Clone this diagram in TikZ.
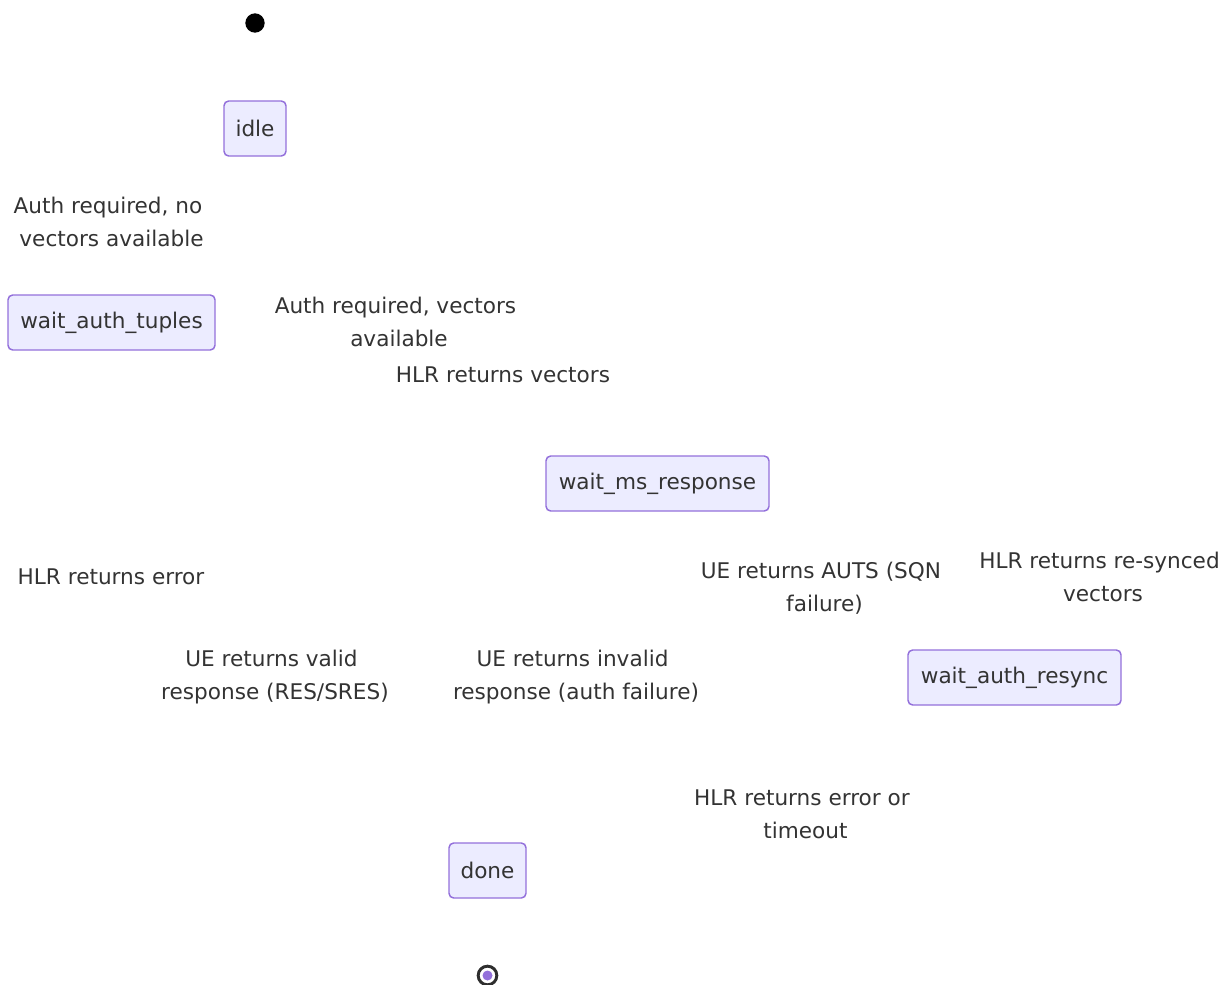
\documentclass[tikz,border=0pt]{standalone}
\usepackage{fontspec}
\setmainfont{DejaVu Sans}
\definecolor{nodefill}{HTML}{ECECFF}
\definecolor{nodeline}{HTML}{9370DB}
\definecolor{txt}{HTML}{333333}
\newcommand{\tsp}{\hspace*{5.25pt}}
\begin{document}
\begin{tikzpicture}[x=0.75pt,y=-0.75pt,
  state/.style={draw=nodeline,fill=nodefill,line width=1.1pt,rounded corners=3.5pt,
    minimum height=41.25pt,inner xsep=0pt,text=txt,font=\fontsize{16.2}{24.75}\selectfont},
  lbl/.style={align=center,text=txt,inner sep=0pt,font=\fontsize{16.2}{24.75}\selectfont}]
\useasboundingbox (0,0) rectangle (1232,985);
\node[circle,fill=black,minimum size=14.5pt,inner sep=0pt] (start) at (255,23) {};
\node[state,minimum width=46.5pt] (idle) at (255,128.5) {idle};
\node[state,minimum width=155.25pt] (tuples) at (111.5,322.5) {wait\_auth\_tuples};
\node[state,minimum width=167.25pt] (ms) at (657.5,483.5) {wait\_ms\_response};
\node[state,minimum width=159.75pt] (resync) at (1014.5,677.5) {wait\_auth\_resync};
\node[state,minimum width=57.75pt] (done) at (487.5,870.5) {done};
\node[circle,draw=txt!90!black,line width=2.2pt,fill=white,minimum size=14pt,inner sep=0pt] (end) at (487.5,975.5) {};
\node[circle,fill=nodeline,minimum size=7.5pt,inner sep=0pt] (endin) at (end) {};
\node[lbl] (l1) at (111.5,221.5) {Auth required, no\tsp\\vectors available};
\node[lbl] (l2) at (399,321.5) {Auth required, vectors\tsp\\available};
\node[lbl] (l3) at (503,375) {HLR returns vectors};
\node[lbl] (l4) at (111,577) {HLR returns error};
\node[lbl] (l5) at (824.5,588) {UE returns AUTS (SQN\tsp\\failure)};
\node[lbl] (l6) at (1103,577) {HLR returns re-synced\tsp\\vectors};
\node[lbl] (l7) at (275,677) {UE returns valid\tsp\\response (RES/SRES)};
\node[lbl] (l8) at (576,677) {UE returns invalid\tsp\\response (auth failure)};
\node[lbl] (l9) at (805.5,814) {HLR returns error or\tsp\\timeout};
\end{tikzpicture}
\end{document}
